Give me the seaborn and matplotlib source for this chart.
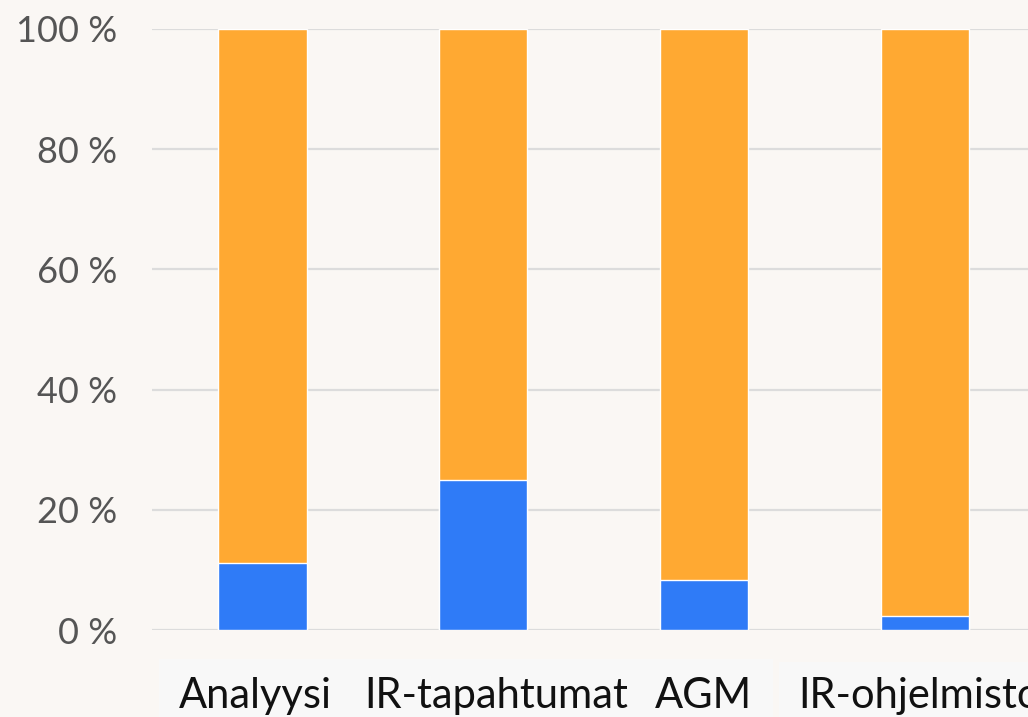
import matplotlib.pyplot as plt
import matplotlib.transforms as mtransforms
import pandas as pd
import seaborn as sns
from matplotlib.patches import Rectangle

CATEGORIES = ["Analyysi", "IR-tapahtumat", "AGM", "IR-ohjelmisto"]
BLUE_SHARE = [11.1, 25.0, 8.3, 2.4]
ORANGE_SHARE = [88.9, 75.0, 91.7, 97.6]
Y_TICKS = [0, 20, 40, 60, 80, 100]
# small horizontal nudges of the category labels (pixels)
LABEL_SHIFT = [-7, 13, -1, -6]

BG = "#faf7f4"
BOX = "#f8f8f8"
BLUE = "#2f7bf7"
ORANGE = "#ffa932"

df = pd.DataFrame({"kategoria": CATEGORIES, "blue": BLUE_SHARE, "orange": ORANGE_SHARE})
df["total"] = df["blue"] + df["orange"]

sns.set_theme(style="white")
plt.rcParams["font.family"] = ["Lato", "DejaVu Sans"]

W, H = 1028, 717
fig = plt.figure(figsize=(W / 100, H / 100), dpi=100, facecolor=BG)
ax = fig.add_axes([152 / W, 87 / H, 883.5 / W, 601 / H])
ax.set_facecolor(BG)
ax.patch.set_alpha(0)

# label background boxes (pixel coords, from top-left), kept behind the axes
for x0, x1, top in [(159, 773, 659), (779, W + 5, 662)]:
    fig.patches.append(Rectangle((x0 / W, 0), (x1 - x0) / W, (H - top) / H,
                                 transform=fig.transFigure, facecolor=BOX,
                                 edgecolor="none", zorder=-5))

sns.barplot(data=df, x="kategoria", y="total", color=ORANGE, width=0.4, saturation=1, ax=ax)
sns.barplot(data=df, x="kategoria", y="blue", color=BLUE, width=0.4, saturation=1, ax=ax)

ax.set_xlim(-0.5, 3.5)
ax.set_ylim(0, 100)
ax.set_yticks(Y_TICKS)
ax.set_yticklabels([f"{v} %" for v in Y_TICKS], color="#555555", fontsize=26)
ax.tick_params(axis="y", length=0, pad=25)
ax.tick_params(axis="x", length=0, pad=34)
for lbl, dx in zip(ax.get_xticklabels(), LABEL_SHIFT):
    lbl.set_fontsize(30)
    lbl.set_color("#111111")
    lbl.set_va("top")
    lbl.set_transform(lbl.get_transform() + mtransforms.ScaledTranslation(dx / 100, 0, fig.dpi_scale_trans))

ax.set_axisbelow(True)
ax.yaxis.grid(True, color="#dcdcdc", linewidth=1.6)
ax.set_xlabel("")
ax.set_ylabel("")
for s in ax.spines.values():
    s.set_visible(False)

fig.savefig("out.png", dpi=100, facecolor=BG)
